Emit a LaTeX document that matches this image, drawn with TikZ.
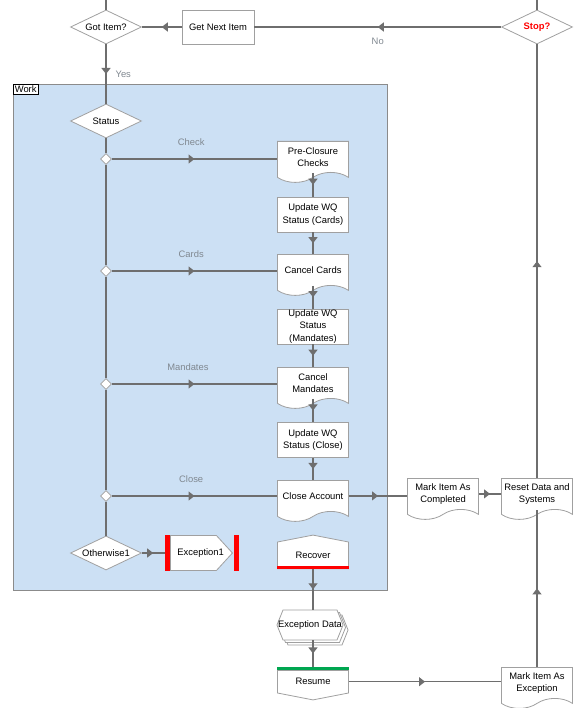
\documentclass[tikz,border=0pt]{standalone}
\usepackage{fontspec}
\setmainfont{Liberation Sans}
\usepackage{xcolor}
\usepackage{tikz}
\usetikzlibrary{positioning, arrows.meta, shapes.geometric, shapes.symbols, shadows, decorations.markings, calc}

\definecolor{linegray}{HTML}{6E6E6E}
\definecolor{boxgray}{HTML}{A0A0A0}
\definecolor{labelgray}{HTML}{808890}
\definecolor{workblue}{HTML}{CCE0F4}
\definecolor{failred}{HTML}{FF0000}
\definecolor{okgreen}{HTML}{00A650}

\begin{document}
\begin{tikzpicture}[
    x=1pt, y=-1pt,
    every node/.style={align=center, font=\fontsize{9.4}{12.5}\selectfont},
    link/.style={linegray, line width=1.2pt},
    midarrow/.style={postaction={decorate}, decoration={markings,
        mark=at position 0.5 with {\arrow{Triangle[length=6pt, width=9pt]}}}},
    labeltext/.style={text=labelgray, inner sep=0pt},
    process/.style={rectangle, draw=boxgray, fill=white, line width=0.8pt, minimum width=71pt, minimum height=35pt, inner sep=0pt},
    docbox/.style={tape, tape bend top=none, tape bend bottom=in and out, tape bend height=10pt, draw=boxgray, fill=white, line width=0.8pt, minimum width=71pt, minimum height=41pt, inner sep=0pt},
    decision/.style={diamond, aspect=2.1, draw=boxgray, fill=white, line width=0.8pt, minimum width=71pt, minimum height=34pt, inner sep=0pt},
    junction/.style={diamond, draw=boxgray, fill=white, line width=0.8pt, minimum width=11pt, minimum height=11pt, inner sep=0pt},
    stagebox/.style={signal, signal from=nowhere, draw=boxgray, fill=white, line width=0.8pt, inner sep=0pt},
    collection/.style={signal, signal to=west and east, signal pointer angle=136, draw=boxgray, fill=white, line width=0.8pt, inner sep=0pt, minimum height=30pt, double copy shadow={shadow xshift=2.5pt, shadow yshift=-2.5pt}}
]
    \useasboundingbox (0,0) rectangle (586,708);

    % work block
    \node[draw=linegray!80, fill=workblue, line width=0.8pt, minimum width=374pt, minimum height=506pt, anchor=north west] (work) at (13,84) {};
    \node[draw=black, fill=white, line width=0.6pt, inner sep=1.5pt, anchor=north west] (worktag) at (work.north west) {Work};

    % main loop
    \coordinate (loopin) at (106,0);
    \coordinate (loopout) at (537,0);
    \node[decision] (gotitem) at (106,27) {Got Item?};
    \node[process, minimum width=72pt, minimum height=34pt] (getnext) at (218,27) {Get Next Item};
    \node[decision] (stop) at (537,27) {\textcolor{failred}{\textbf{Stop?}}};

    % choice
    \node[decision] (status) at (106,121) {Status};
    \node[junction] (jcheck) at (106,159) {};
    \node[junction] (jcards) at (106,271) {};
    \node[junction] (jmand) at (106,384) {};
    \node[junction] (jclose) at (106,496) {};
    \node[decision] (otherwise) at (106,553) {Otherwise1};

    % actions
    \node[docbox, anchor=north] (precheck) at (313,141) {Pre-Closure\\Checks};
    \node[process] (updcards) at (313,214.5) {Update WQ\\Status (Cards)};
    \node[docbox, anchor=north] (cancelcards) at (313,254) {Cancel Cards};
    \node[process] (updmand) at (313,326.5) {Update WQ\\Status\\(Mandates)};
    \node[docbox, anchor=north] (cancelmand) at (313,367) {Cancel\\Mandates};
    \node[process] (updclose) at (313,440) {Update WQ\\Status (Close)};
    \node[docbox, anchor=north] (closeacc) at (313,480) {Close Account};
    \node[docbox, anchor=north] (completed) at (443,478) {Mark Item As\\Completed};
    \node[docbox, anchor=north] (resetdata) at (537,478) {Reset Data and\\Systems};

    % exceptions
    \node[stagebox, signal to=east, signal pointer angle=95, minimum height=35pt, anchor=west] (exc) at (170,553) {\makebox[46pt][l]{\hspace*{7pt}Exception1}};
    \fill[failred] ([xshift=-5.5pt]exc.west |- exc.north) rectangle (exc.west |- exc.south);
    \fill[failred] ([xshift=1pt]exc.east |- exc.north) rectangle ([xshift=6pt]exc.east |- exc.south);
    \coordinate (excin) at ([xshift=-5.5pt]exc.west);

    \node[stagebox, signal to=north, signal pointer angle=158, minimum width=71pt, minimum height=30pt, anchor=south] (recover) at (313,569) {Recover};
    \fill[failred] ([yshift=3pt]recover.south -| recover.west) rectangle (recover.south -| recover.east);

    \node[collection] (excdata) at (310,625) {\makebox[54pt]{Exception Data}};

    \node[stagebox, signal to=south, signal pointer angle=158, minimum width=71pt, minimum height=26pt, anchor=north] (resume) at (313,670) {Resume};
    \fill[okgreen] (resume.north -| resume.west) rectangle ([yshift=3.5pt]resume.north -| resume.east);

    \node[docbox, anchor=north] (markexc) at (537,667) {Mark Item As\\Exception};

    % connectors
    \draw[link] (gotitem.north) -- (loopin);
    \draw[link] (stop.north) -- (loopout);
    \draw[link, midarrow] (stop.west) -- node[labeltext, yshift=-14pt] {No} (getnext.east);
    \draw[link, midarrow] (getnext.west) -- (gotitem.east);
    \draw[link, midarrow] (gotitem.south) -- node[labeltext, anchor=west, xshift=9pt] {Yes} (status.north);

    \draw[link] (status.south) -- (jcheck.north);
    \draw[link] (jcheck.south) -- (jcards.north);
    \draw[link] (jcards.south) -- (jmand.north);
    \draw[link] (jmand.south) -- (jclose.north);
    \draw[link] (jclose.south) -- (otherwise.north);

    \draw[link, midarrow] (jcheck.east) -- node[labeltext, yshift=17pt, pos=0.48] {Check} (jcheck.east -| precheck.west);
    \draw[link, midarrow] (jcards.east) -- node[labeltext, yshift=17pt, pos=0.48] {Cards} (jcards.east -| cancelcards.west);
    \draw[link, midarrow] (jmand.east) -- node[labeltext, yshift=17pt, pos=0.46] {Mandates} (jmand.east -| cancelmand.west);
    \draw[link, midarrow] (jclose.east) -- node[labeltext, yshift=17pt, pos=0.48] {Close} (jclose.east -| closeacc.west);
    \draw[link, midarrow] (otherwise.east) -- (excin);

    \draw[link, midarrow] (precheck.south) -- (updcards.north);
    \draw[link, midarrow] (updcards.south) -- (cancelcards.north);
    \draw[link, midarrow] (cancelcards.south) -- (updmand.north);
    \draw[link, midarrow] (updmand.south) -- (cancelmand.north);
    \draw[link, midarrow] (cancelmand.south) -- (updclose.north);
    \draw[link, midarrow] (updclose.south) -- (closeacc.north);

    \draw[link, midarrow] (closeacc.east) -- (closeacc.east -| completed.west);
    \draw[link, midarrow] (completed.east) -- (completed.east -| resetdata.west);
    \draw[link, midarrow] (resetdata.north) -- (stop.south);

    \draw[link, midarrow] (recover.south) -- (recover.south |- excdata.north);
    \draw[link, midarrow] (recover.south |- excdata.south) -- ([yshift=3.5pt]resume.north);
    \draw[link, midarrow] (resume.east) -- (resume.east -| markexc.west);
    \draw[link, midarrow] (markexc.north) -- (resetdata.south);
\end{tikzpicture}
\end{document}
